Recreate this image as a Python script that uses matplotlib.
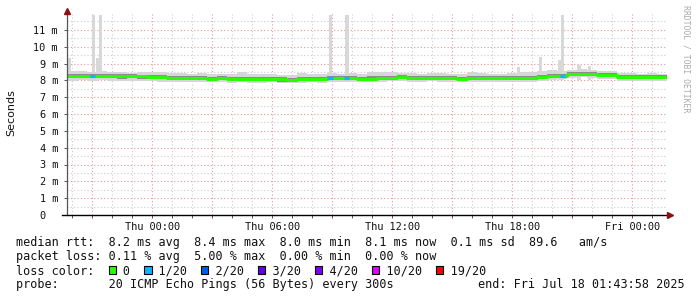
import numpy as np
import matplotlib
matplotlib.use("Agg")
import matplotlib.pyplot as plt
from matplotlib.patches import Rectangle
from matplotlib.ticker import FixedLocator, FixedFormatter, NullFormatter

# ---------------- data ----------------
# time in hours relative to Thu 00:00; one value per 30-minute slot
start_h = -4.2672
slot_h = 0.5

median_ms = [8.25, 8.27, 8.25, 8.26, 8.25, 8.24, 8.25, 8.23, 8.20, 8.21,
             8.16, 8.15, 8.13, 8.14, 8.10, 8.12, 8.09, 8.08, 8.07, 8.06,
             8.07, 8.05, 8.02, 8.06, 8.08, 8.07, 8.15, 8.12, 8.14, 8.10,
             8.10, 8.12, 8.15, 8.17, 8.16, 8.15, 8.16, 8.14, 8.15, 8.10,
             8.13, 8.15, 8.12, 8.14, 8.15, 8.12, 8.15, 8.17, 8.25, 8.27,
             8.38, 8.40, 8.36, 8.30, 8.30, 8.22, 8.20, 8.18, 8.22, 8.18]

smoke_max_ms = [8.55, 8.55, 8.52, 8.55, 8.50, 8.48, 8.45, 8.47, 8.50, 8.52,
                8.45, 8.42, 8.40, 8.42, 8.38, 8.40, 8.35, 8.48, 8.40, 8.35,
                8.38, 8.32, 8.30, 8.42, 8.38, 8.35, 8.45, 8.40, 8.42, 8.38,
                8.48, 8.52, 8.50, 8.45, 8.42, 8.40, 8.45, 8.42, 8.40, 8.38,
                8.50, 8.42, 8.40, 8.38, 8.45, 8.48, 8.50, 8.55, 8.60, 8.55,
                8.62, 8.65, 8.60, 8.55, 8.58, 8.45, 8.42, 8.40, 8.45, 8.40]

smoke_min_ms = [7.98, 8.00, 7.98, 8.00, 7.98, 7.95, 7.98, 7.95, 7.95, 7.92,
                7.90, 7.92, 7.88, 7.90, 7.88, 7.90, 7.85, 7.88, 7.86, 7.85,
                7.88, 7.85, 7.82, 7.86, 7.88, 7.86, 7.92, 7.90, 7.92, 7.88,
                7.90, 7.92, 7.94, 7.95, 7.92, 7.92, 7.95, 7.92, 7.93, 7.88,
                7.90, 7.92, 7.90, 7.92, 7.92, 7.88, 7.92, 7.95, 8.02, 8.05,
                8.15, 8.18, 8.12, 8.08, 8.05, 7.98, 7.96, 7.95, 7.98, 7.95]

smoke_q3_ms = [8.40, 8.38, 8.37, 8.40, 8.36, 8.35, 8.36, 8.34, 8.33, 8.34,
               8.28, 8.27, 8.25, 8.26, 8.22, 8.24, 8.21, 8.22, 8.19, 8.18,
               8.20, 8.17, 8.14, 8.19, 8.20, 8.19, 8.28, 8.24, 8.26, 8.22,
               8.23, 8.26, 8.28, 8.29, 8.27, 8.26, 8.28, 8.26, 8.27, 8.22,
               8.26, 8.27, 8.24, 8.25, 8.27, 8.25, 8.28, 8.30, 8.38, 8.40,
               8.50, 8.52, 8.48, 8.42, 8.42, 8.34, 8.32, 8.30, 8.34, 8.30]

smoke_q1_ms = [8.12, 8.14, 8.12, 8.13, 8.12, 8.10, 8.12, 8.10, 8.08, 8.08,
               8.04, 8.03, 8.01, 8.02, 7.98, 8.00, 7.97, 7.96, 7.95, 7.94,
               7.95, 7.93, 7.90, 7.94, 7.96, 7.95, 8.03, 8.00, 8.02, 7.98,
               7.98, 8.00, 8.03, 8.05, 8.04, 8.03, 8.04, 8.02, 8.03, 7.98,
               8.01, 8.03, 8.00, 8.02, 8.03, 8.00, 8.03, 8.05, 8.13, 8.15,
               8.26, 8.28, 8.24, 8.18, 8.18, 8.10, 8.08, 8.06, 8.10, 8.06]

spike_h = [-4.14, -2.94, -2.73, -2.59, 8.91, 9.73, 18.29, 19.41, 20.37, 20.51, 21.33, 21.87]
spike_top_ms = [9.3, 11.9, 9.3, 11.9, 11.9, 11.9, 8.8, 9.4, 9.2, 11.9, 8.9, 8.85]

loss_h = [-2.98, 8.88, 9.72, 20.5]
loss_count = [1, 1, 1, 1]

loss_levels = [0, 1, 2, 3, 4, 10, 19]
loss_labels = ["0", "1/20", "2/20", "3/20", "4/20", "10/20", "19/20"]
loss_colors = ["#26ff00", "#00b8ff", "#0059ff", "#5e00ff", "#7e00ff", "#dd00ff", "#ff0000"]

xtick_h = [0, 6, 12, 18, 24]
xtick_labels = ["Thu 00:00", "Thu 06:00", "Thu 12:00", "Thu 18:00", "Fri 00:00"]
ytick_ms = list(range(0, 12))
ytick_labels = ["0  "] + ["%d m" % v for v in range(1, 12)]

stat_line1 = "median rtt:  8.2 ms avg  8.4 ms max  8.0 ms min  8.1 ms now  0.1 ms sd  89.6   am/s"
stat_line2 = "packet loss: 0.11 % avg  5.00 % max  0.00 % min  0.00 % now"
probe_line = "probe:       20 ICMP Echo Pings (56 Bytes) every 300s"
end_line = "end: Fri Jul 18 01:43:58 2025"

# ---------------- figure ----------------
W, H = 697, 297
DPI = 100
fig = plt.figure(figsize=(W / DPI, H / DPI), dpi=DPI, facecolor="white")

X0, X1 = 67, 667      # plot area pixels
Y0, Y1 = 215, 13
ax = fig.add_axes([X0 / W, 1 - Y0 / H, (X1 - X0) / W, (Y0 - Y1) / H])
ax.set_facecolor("white")

n = len(median_ms)
edges = start_h + slot_h * np.arange(n + 1)
end_h = edges[-1]

def ext(a):
    a = np.asarray(a, dtype=float)
    return np.append(a, a[-1])

ax.set_xlim(start_h, end_h)
ax.set_ylim(0, 12)

# grid
dot = (0, (1, 2))
major_x = [h for h in range(-3, 27, 3) if start_h <= h <= end_h]
minor_x = [h for h in range(-4, 26) if h % 3 != 0 and start_h <= h <= end_h]
for h in minor_x:
    ax.axvline(h, color="#cccccc", lw=0.8, ls=dot, zorder=0)
for h in major_x:
    ax.axvline(h, color="#e09a9a", lw=0.8, ls=dot, zorder=0)
for v in np.arange(0.5, 12, 1.0):
    ax.axhline(v, color="#cccccc", lw=0.8, ls=dot, zorder=0)
for v in range(1, 12):
    ax.axhline(v, color="#e09a9a", lw=0.8, ls=dot, zorder=0)

# smoke
ax.fill_between(edges, ext(smoke_min_ms), ext(smoke_max_ms), step="post",
                color="#d6d6d6", lw=0, zorder=2)
ax.bar(spike_h, np.asarray(spike_top_ms) - 8.0, bottom=8.0, width=0.16,
       color="#d8d8d8", lw=0, zorder=2)
ax.fill_between(edges, ext(smoke_q1_ms), ext(smoke_q3_ms), step="post",
                color="#8c8c8c", lw=0, zorder=3)

# median coloured by loss
ax.step(edges, ext(median_ms), where="post", color=loss_colors[0], lw=2.1, zorder=4)
for t, c in zip(loss_h, loss_count):
    i = int((t - start_h) // slot_h)
    col = loss_colors[loss_levels.index(c)]
    ax.plot([t - 0.13, t + 0.13], [median_ms[i], median_ms[i]], color=col, lw=2.3,
            solid_capstyle="butt", zorder=5)

# axes and ticks
for s in ax.spines.values():
    s.set_visible(False)
ax.xaxis.set_major_locator(FixedLocator(major_x))
ax.xaxis.set_major_formatter(NullFormatter())
ax.xaxis.set_minor_locator(FixedLocator(minor_x))
ax.tick_params(axis="x", which="both", direction="out", length=2, width=0.7, color="#555555")
ax.yaxis.set_major_locator(FixedLocator(ytick_ms))
ax.yaxis.set_major_formatter(FixedFormatter(ytick_labels))
ax.tick_params(axis="y", which="major", direction="out", length=2, width=0.7,
               color="#555555", pad=4.5, labelsize=7.4, labelcolor="#111111")
for lab in ax.get_yticklabels():
    lab.set_fontfamily("DejaVu Sans Mono")

sec = ax.secondary_xaxis("bottom")
sec.set_xticks(xtick_h, xtick_labels)
sec.tick_params(length=0, pad=5, labelsize=7.4, labelcolor="#111111")
for lab in sec.get_xticklabels():
    lab.set_fontfamily("DejaVu Sans Mono")
for s in sec.spines.values():
    s.set_visible(False)

# axis lines with arrows
ax.plot([0, 0], [0, 1.0], transform=ax.transAxes, color="#555555", lw=0.9,
        clip_on=False, zorder=6)
ax.plot([-5 / 600, 1.0], [0, 0], transform=ax.transAxes, color="black", lw=1.0,
        clip_on=False, zorder=6)
ax.plot([0], [1.0 + 2 / 202], transform=ax.transAxes, marker="^", ms=4.5,
        color="#8b1010", mec="#8b1010", clip_on=False, zorder=7, ls="none")
ax.plot([1.0 + 3 / 600], [0], transform=ax.transAxes, marker=">", ms=4.5,
        color="#8b1010", mec="#8b1010", clip_on=False, zorder=7, ls="none")

# y label & watermark
fig.text(11 / W, 1 - 113 / H, "Seconds", rotation=90, ha="center", va="center",
         fontsize=8, family="DejaVu Sans", color="#111111")
fig.text(686 / W, 1 - 59 / H, "RRDTOOL / TOBI OETIKER", rotation=270, ha="center",
         va="center", fontsize=5.9, family="DejaVu Sans Mono", color="#aaaaaa")

# legend / stats text
FS = 8.5
CW = 0.602 * FS * DPI / 72.0
TX = 16
def fy(y):
    return 1 - y / H

mono = dict(fontsize=FS, family="DejaVu Sans Mono", color="#111111", va="baseline", ha="left")
fig.text(TX / W, fy(246), stat_line1, **mono)
fig.text(TX / W, fy(260), stat_line2, **mono)

legend_line = "loss color:  "
box_cols = []
for lab in loss_labels:
    box_cols.append(len(legend_line))
    legend_line += "  " + lab + "  "
fig.text(TX / W, fy(274), legend_line.rstrip(), **mono)
for col, c in zip(box_cols, loss_colors):
    bx = TX + col * CW + 0.3
    fig.add_artist(Rectangle((bx / W, fy(273.5)), 7.3 / W, 7.3 / H,
                             transform=fig.transFigure, facecolor=c,
                             edgecolor="black", lw=0.8))

fig.text(TX / W, fy(288), probe_line, **mono)
fig.text(478 / W, fy(288), end_line, **mono)

fig.savefig("out.png", dpi=DPI, facecolor="white")
